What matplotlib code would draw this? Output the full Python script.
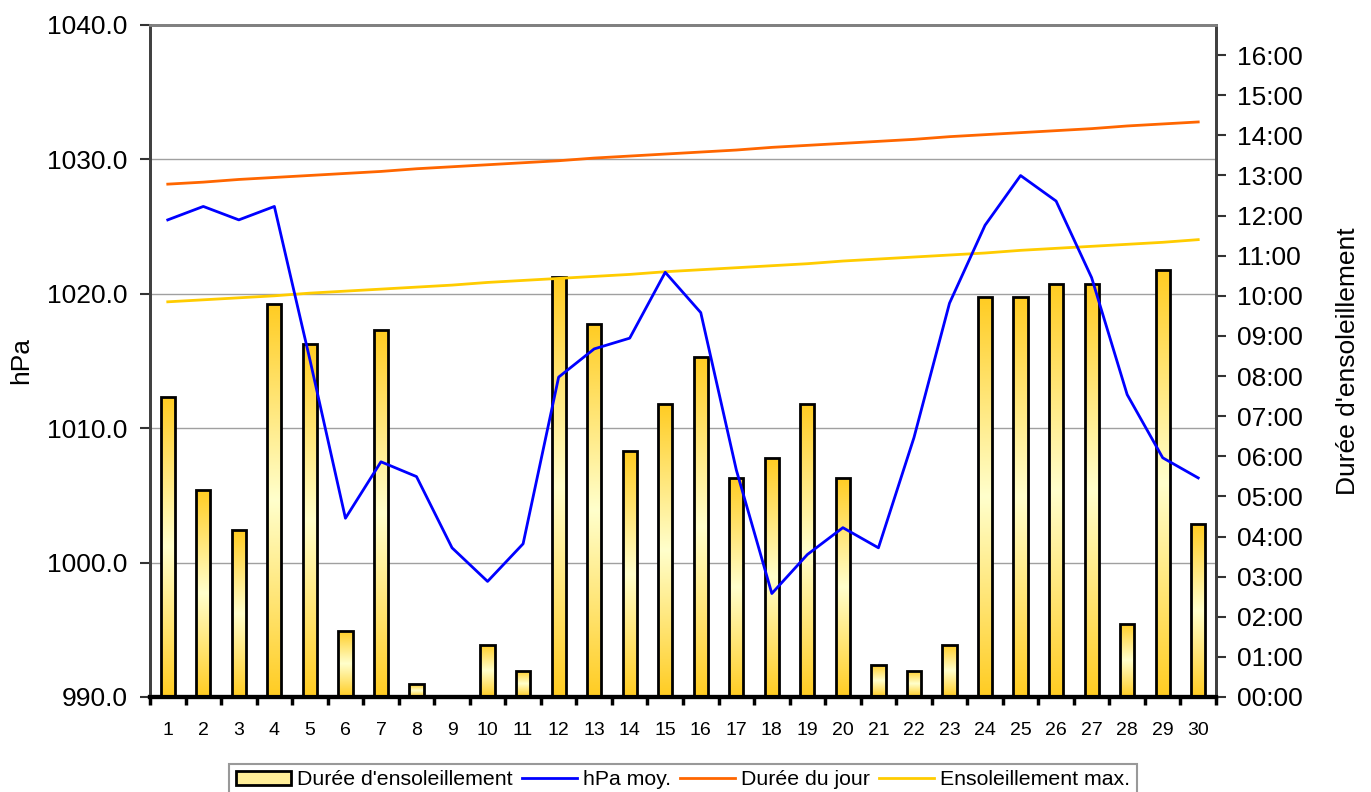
import numpy as np
import matplotlib
matplotlib.use("Agg")
import matplotlib.pyplot as plt
from matplotlib.colors import LinearSegmentedColormap
from matplotlib.patches import Patch
from matplotlib.lines import Line2D
from matplotlib.ticker import FuncFormatter, MultipleLocator, FixedLocator

plt.rcParams["font.family"] = ["Liberation Sans", "DejaVu Sans"]

# --- data ---------------------------------------------------------------
days = list(range(1, 31))
# sunshine duration per day (hours)
sunshine_h = [7.48, 5.16, 4.16, 9.80, 8.80, 1.65, 9.15, 0.32, 0.0, 1.30,
              0.65, 10.47, 9.30, 6.13, 7.31, 8.48, 5.46, 5.96, 7.31, 5.46,
              0.80, 0.65, 1.30, 9.98, 9.98, 10.30, 10.30, 1.82, 10.65, 4.31]
# mean pressure (hPa)
hpa_mean = [1025.5, 1026.5, 1025.5, 1026.5, 1015.1, 1003.3, 1007.5, 1006.4,
            1001.1, 998.6, 1001.4, 1013.8, 1015.9, 1016.7, 1021.6, 1018.6,
            1006.9, 997.7, 1000.6, 1002.6, 1001.1, 1009.3, 1019.3, 1025.1,
            1028.8, 1026.9, 1021.2, 1012.5, 1007.8, 1006.3]
# day length (minutes)
day_len_min = [767, 770, 774, 777, 780, 783, 786, 790, 793, 796,
               799, 802, 806, 809, 812, 815, 818, 822, 825, 828,
               831, 834, 838, 841, 844, 847, 850, 854, 857, 860]
# max possible sunshine (minutes)
sun_max_min = [591, 594, 597, 600, 604, 607, 610, 613, 616, 620,
               623, 626, 629, 632, 636, 639, 642, 645, 648, 652,
               655, 658, 661, 664, 668, 671, 674, 677, 680, 684]

labels = ["Durée d'ensoleillement", "hPa moy.", "Durée du jour",
          "Ensoleillement max."]

# --- figure -------------------------------------------------------------
fig = plt.figure(figsize=(13.71, 7.92), dpi=100)
ax1 = fig.add_axes([150 / 1371, 1 - 697 / 792, 1066 / 1371, 672 / 792])
ax2 = ax1.twinx()

ax1.set_xlim(0.5, 30.5)
ax1.set_ylim(990, 1040)
ax2.set_ylim(0, 16.75)

# grid from the hPa axis, behind everything
ax1.yaxis.set_major_locator(MultipleLocator(10))
ax1.grid(axis="y", color="#a0a0a0", lw=1.0)
ax1.set_axisbelow(True)

# bars with vertical gradient (dark - light - dark)
cmap = LinearSegmentedColormap.from_list("sun", ["#FFCC22", "#FFFFCC", "#FFCC22"])
grad = np.linspace(0, 1, 256).reshape(-1, 1)
bars = ax2.bar(days, sunshine_h, width=0.4, facecolor="none",
               edgecolor="black", lw=2.0, zorder=3)
for b in bars:
    h = b.get_height()
    if h <= 0:
        continue
    x0 = b.get_x()
    im = ax2.imshow(grad, cmap=cmap, aspect="auto", zorder=2,
                    extent=(x0, x0 + b.get_width(), 0, h), origin="lower")
    im.set_clip_path(b)
ax2.set_xlim(0.5, 30.5)
ax2.set_ylim(0, 16.75)

# day length / max sunshine on time axis
ax2.plot(days, np.array(day_len_min) / 60, color="#FF6600", lw=2, zorder=4)
ax2.plot(days, np.array(sun_max_min) / 60, color="#FFCC00", lw=2, zorder=4)
# pressure drawn on top, in hPa coordinates
ax2.plot(days, hpa_mean, color="#0000FF", lw=2, zorder=5,
         transform=ax1.transData)

# --- axes styling -------------------------------------------------------
ax1.yaxis.set_major_formatter(FuncFormatter(lambda v, p: "%.1f" % v))
ax1.tick_params(axis="y", labelsize=19, length=7, width=1.5, color="#333333",
                pad=9)
ax2.yaxis.set_major_locator(MultipleLocator(1))
ax2.yaxis.set_major_formatter(FuncFormatter(lambda v, p: "%02d:00" % round(v)))
ax2.tick_params(axis="y", labelsize=19, length=7, width=1.5, color="#333333",
                pad=8)

ax1.set_xticks(days)
ax1.set_xticklabels([str(d) for d in days])
ax1.xaxis.set_minor_locator(FixedLocator(np.arange(0.5, 31, 1)))
ax1.tick_params(axis="x", which="major", length=0, labelsize=14, pad=18)
ax1.tick_params(axis="x", which="minor", length=6, width=2.5, color="black")
ax2.tick_params(axis="x", which="both", length=0)

for ax in (ax1, ax2):
    ax.spines["top"].set_color("#808080")
    ax.spines["top"].set_linewidth(2)
    ax.spines["left"].set_color("#404040")
    ax.spines["left"].set_linewidth(2)
    ax.spines["right"].set_color("#404040")
    ax.spines["right"].set_linewidth(2)
    ax.spines["bottom"].set_color("black")
    ax.spines["bottom"].set_linewidth(3)

ax1.set_ylabel("hPa", fontsize=19, labelpad=10)
ax2.set_ylabel("Durée d'ensoleillement", fontsize=19, labelpad=24)

# --- legend -------------------------------------------------------------
handles = [Patch(facecolor="#FFEE99", edgecolor="black", lw=2),
           Line2D([], [], color="#0000FF", lw=2),
           Line2D([], [], color="#FF6600", lw=2),
           Line2D([], [], color="#FFCC00", lw=2)]
leg = fig.legend(handles, labels, loc="upper center", ncol=4,
                 bbox_to_anchor=(683 / 1371, 1 - 764 / 792), fontsize=15.3,
                 frameon=True, fancybox=False, handlelength=2.6,
                 handleheight=0.6, handletextpad=0.3, columnspacing=0.4,
                 borderpad=0.3, borderaxespad=0)
leg.get_frame().set_edgecolor("#808080")
leg.get_frame().set_linewidth(1.5)

fig.savefig("out.png", dpi=100)
